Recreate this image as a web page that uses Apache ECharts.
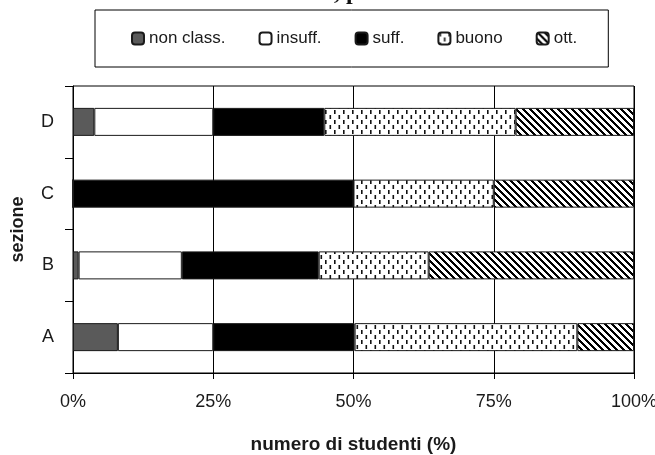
<!DOCTYPE html>
<html><head><meta charset="utf-8">
<script src="https://cdn.jsdelivr.net/npm/echarts@6/dist/echarts.min.js"></script>
<style>html,body{margin:0;padding:0;background:#fff}#c{width:655px;height:455px}</style>
</head><body><div id="c"></div>
<script>
const categories = ['A', 'B', 'C', 'D'];
const seriesNames = ['non class.', 'insuff.', 'suff.', 'buono', 'ott.'];
const nonClass = [8.0, 1.0, 0, 3.8];
const insuff = [17.0, 18.4, 0, 21.2];
const suff = [25.2, 24.4, 50, 19.8];
const buono = [39.7, 19.6, 25, 34.1];
const ott = [10.1, 36.6, 25, 21.1];
const xTicks = [0, 25, 50, 75, 100];

function dashPattern() {
  const c = document.createElement('canvas');
  c.width = 9; c.height = 10;
  const g = c.getContext('2d');
  g.fillStyle = '#fff'; g.fillRect(0, 0, 9, 10);
  g.fillStyle = '#111';
  g.fillRect(1, 0, 1.6, 4);
  g.fillRect(5.5, 5, 1.6, 4);
  return c;
}
function stripePattern() {
  const n = 7;
  const c = document.createElement('canvas');
  c.width = n; c.height = n;
  const g = c.getContext('2d');
  const img = g.createImageData(n, n);
  for (let y = 0; y < n; y++) for (let x = 0; x < n; x++) {
    const k = (((x - y) % n) + n) % n;
    const v = k < 3 ? 0 : 255;
    const i = (y * n + x) * 4;
    img.data[i] = v; img.data[i + 1] = v; img.data[i + 2] = v; img.data[i + 3] = 255;
  }
  g.putImageData(img, 0, 0);
  return c;
}

const fills = [
  '#5a5a5a',
  '#ffffff',
  '#000000',
  { image: dashPattern(), repeat: 'repeat' },
  { image: stripePattern(), repeat: 'repeat' }
];
const values = [nonClass, insuff, suff, buono, ott];
const font = "'Liberation Sans', Arial, sans-serif";
const txt = '#1a1a1a';

const chart = echarts.init(document.getElementById('c'), null, { renderer: 'canvas' });
chart.setOption({
  animation: false,
  backgroundColor: '#fff',
  graphic: [{
    type: 'text', left: 334, top: -19,
    style: { text: ', p', font: "bold 24px 'Liberation Serif', 'Times New Roman', serif", fill: '#111' }
  }],
  legend: {
    left: 95, top: 10,
    padding: [20, 31, 20, 36],
    itemGap: 33, itemWidth: 12, itemHeight: 12,
    borderColor: '#000', borderWidth: 1,
    textStyle: { fontFamily: font, fontSize: 17, color: txt },
    data: seriesNames
  },
  grid: { left: 73, right: 21, top: 86, bottom: 82, show: true, borderColor: '#000', borderWidth: 1, containLabel: false, outerBoundsMode: 'none' },
  xAxis: {
    type: 'value', min: 0, max: 100, interval: 25,
    axisLine: { show: true, lineStyle: { color: '#000', width: 1 } },
    axisTick: { show: true, length: 6, lineStyle: { color: '#000' } },
    splitLine: { show: true, lineStyle: { color: '#000', width: 1 } },
    axisLabel: { formatter: v => xTicks.includes(v) ? v + '%' : '', fontFamily: font, fontSize: 18, color: txt, margin: 20 },
    name: 'numero di studenti (%)', nameLocation: 'middle', nameGap: 62,
    nameTextStyle: { fontFamily: font, fontSize: 19, fontWeight: 'bold', color: txt }
  },
  yAxis: {
    type: 'category', data: categories,
    axisLine: { show: true, lineStyle: { color: '#000', width: 1 } },
    axisTick: { show: true, length: 8, alignWithLabel: false, lineStyle: { color: '#000' } },
    splitLine: { show: false },
    axisLabel: { fontFamily: font, fontSize: 18, color: txt, margin: 19 },
    name: 'sezione', nameLocation: 'middle', nameRotate: 90, nameGap: 46,
    nameTextStyle: { fontFamily: font, fontSize: 18, fontWeight: 'bold', color: txt }
  },
  series: seriesNames.map((name, i) => ({
    name, type: 'bar', stack: 'tot', barWidth: 28,
    data: values[i],
    itemStyle: { color: fills[i], borderColor: '#1a1a1a', borderWidth: 1 },
    emphasis: { disabled: true }
  }))
});
</script></body></html>
